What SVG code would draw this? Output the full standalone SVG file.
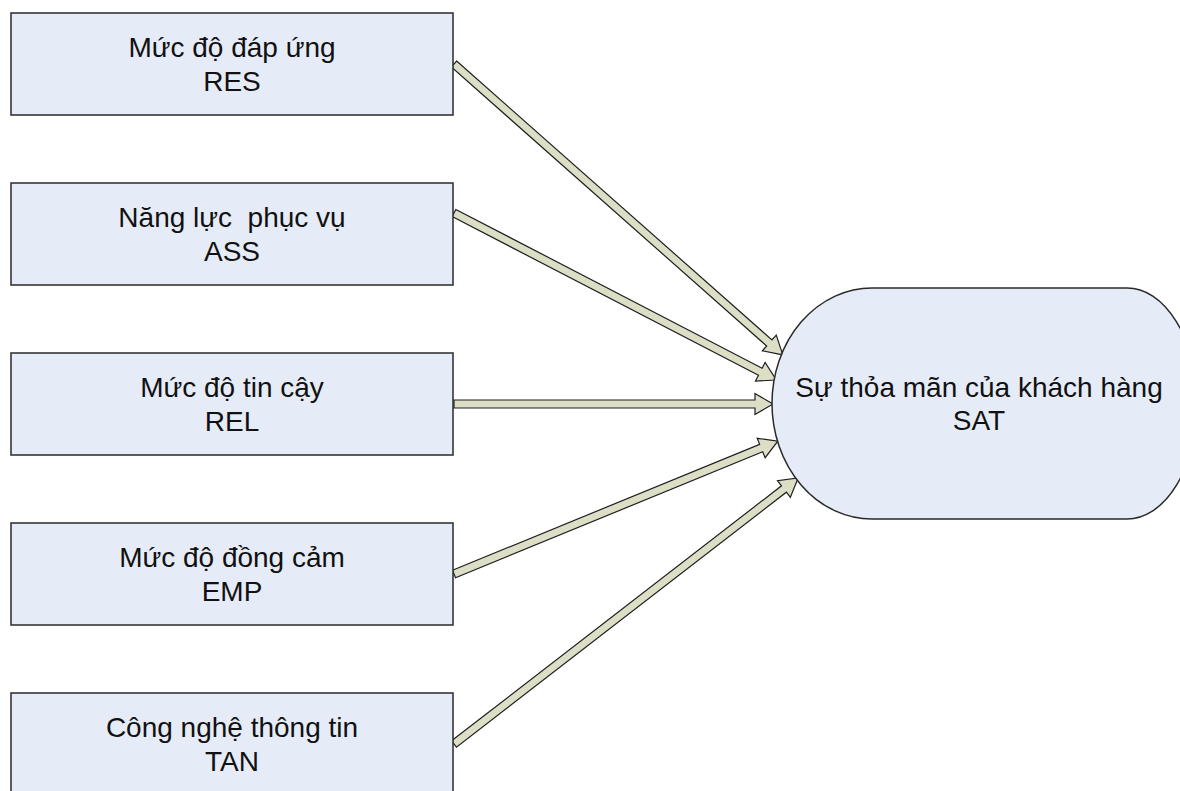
<svg xmlns="http://www.w3.org/2000/svg" width="1180" height="791" viewBox="0 0 1180 791">
<style>
.box{fill:#e6ecf7;stroke:#2a2a2a;stroke-width:1.5}
.t{font-family:"Liberation Sans",Arial,sans-serif;font-size:28px;fill:#111;text-anchor:middle;white-space:pre}
.arr{fill:#dcdfc6;stroke:#1e1e1e;stroke-width:1.2;stroke-linejoin:miter}
</style>
<rect width="1180" height="791" fill="#ffffff"/>
<g id="connectors">
<g transform="translate(454,64) rotate(41.5)"><polygon class="arr" points="0,-4 421,-4 421,-10.5 439,0 421,10.5 421,4 0,4"/></g>
<g transform="translate(454,213) rotate(27.4)"><polygon class="arr" points="0,-4 345,-4 345,-10.5 363,0 345,10.5 345,4 0,4"/></g>
<g transform="translate(454,404)"><polygon class="arr" points="0,-4 301,-4 301,-10.5 319,0 301,10.5 301,4 0,4"/></g>
<g transform="translate(454,574) rotate(-22.3)"><polygon class="arr" points="0,-4 332,-4 332,-10.5 350,0 332,10.5 332,4 0,4"/></g>
<g transform="translate(454,744) rotate(-37.7)"><polygon class="arr" points="0,-4 417,-4 417,-10.5 435,0 417,10.5 417,4 0,4"/></g>
</g>
<g id="res">
<rect class="box" x="11" y="13" width="442" height="102"/>
<text class="t" x="232" y="57">Mức độ đáp ứng</text>
<text class="t" x="232" y="91">RES</text>
</g>
<g id="ass">
<rect class="box" x="11" y="183" width="442" height="102"/>
<text class="t" x="232" y="227">Năng lực  phục vụ</text>
<text class="t" x="232" y="261">ASS</text>
</g>
<g id="rel">
<rect class="box" x="11" y="353" width="442" height="102"/>
<text class="t" x="232" y="397">Mức độ tin cậy</text>
<text class="t" x="232" y="431">REL</text>
</g>
<g id="emp">
<rect class="box" x="11" y="523" width="442" height="102"/>
<text class="t" x="232" y="567">Mức độ đồng cảm</text>
<text class="t" x="232" y="601">EMP</text>
</g>
<g id="tan">
<rect class="box" x="11" y="693" width="442" height="102"/>
<text class="t" x="232" y="737">Công nghệ thông tin</text>
<text class="t" x="232" y="771">TAN</text>
</g>
<g id="sat">
<path class="box" d="M872 288 L1127 288 A70 115.5 0 0 1 1127 519 L872 519 A100 115.5 0 0 1 872 288 Z"/>
<text class="t" x="979" y="397">Sự thỏa mãn của khách hàng</text>
<text class="t" x="979" y="430">SAT</text>
</g>
</svg>
